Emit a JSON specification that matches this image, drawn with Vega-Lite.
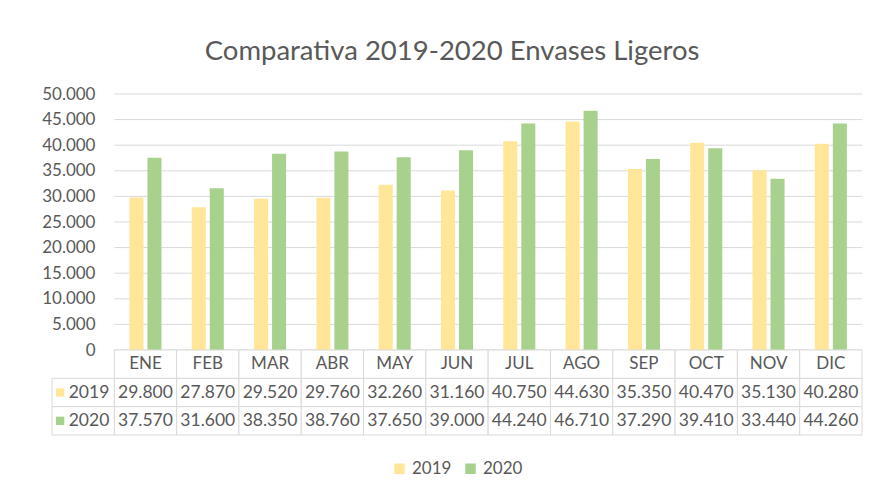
{
  "$schema": "https://vega.github.io/schema/vega-lite/v6.json",
  "padding": {"left": 41, "top": 37, "right": 10, "bottom": 5},
  "title": {"text": "Comparativa 2019-2020 Envases Ligeros", "font": "Lato", "fontSize": 27.5, "fontWeight": "normal", "color": "#595959", "anchor": "middle", "offset": 20},
  "datasets": {
    "valores": [
      {"mes": "ENE", "anio": "2019", "valor": 29800},
      {"mes": "FEB", "anio": "2019", "valor": 27870},
      {"mes": "MAR", "anio": "2019", "valor": 29520},
      {"mes": "ABR", "anio": "2019", "valor": 29760},
      {"mes": "MAY", "anio": "2019", "valor": 32260},
      {"mes": "JUN", "anio": "2019", "valor": 31160},
      {"mes": "JUL", "anio": "2019", "valor": 40750},
      {"mes": "AGO", "anio": "2019", "valor": 44630},
      {"mes": "SEP", "anio": "2019", "valor": 35350},
      {"mes": "OCT", "anio": "2019", "valor": 40470},
      {"mes": "NOV", "anio": "2019", "valor": 35130},
      {"mes": "DIC", "anio": "2019", "valor": 40280},
      {"mes": "ENE", "anio": "2020", "valor": 37570},
      {"mes": "FEB", "anio": "2020", "valor": 31600},
      {"mes": "MAR", "anio": "2020", "valor": 38350},
      {"mes": "ABR", "anio": "2020", "valor": 38760},
      {"mes": "MAY", "anio": "2020", "valor": 37650},
      {"mes": "JUN", "anio": "2020", "valor": 39000},
      {"mes": "JUL", "anio": "2020", "valor": 44240},
      {"mes": "AGO", "anio": "2020", "valor": 46710},
      {"mes": "SEP", "anio": "2020", "valor": 37290},
      {"mes": "OCT", "anio": "2020", "valor": 39410},
      {"mes": "NOV", "anio": "2020", "valor": 33440},
      {"mes": "DIC", "anio": "2020", "valor": 44260}
    ],
    "lineas": [
      {"v": 0}, {"v": 5000}, {"v": 10000}, {"v": 15000}, {"v": 20000}, {"v": 25000},
      {"v": 30000}, {"v": 35000}, {"v": 40000}, {"v": 45000}, {"v": 50000}
    ]
  },
  "spacing": 0,
  "bounds": "flush",
  "resolve": {"scale": {"color": "shared"}},
  "vconcat": [
    {
      "width": 810,
      "height": 256,
      "layer": [
        {
          "data": {"name": "lineas"},
          "mark": {"type": "rule", "color": "#D9D9D9", "strokeWidth": 1},
          "encoding": {
            "y": {"field": "v", "type": "quantitative", "scale": {"domain": [0, 50000]},
              "axis": {"title": null, "values": [0, 5000, 10000, 15000, 20000, 25000, 30000, 35000, 40000, 45000, 50000], "format": ",.0f", "grid": false, "domain": false, "ticks": false, "offset": -62, "labelPadding": 19, "labelFont": "Lato", "labelFontSize": 17, "labelColor": "#595959"}},
            "x": {"datum": "ENE", "type": "nominal", "bandPosition": 0, "axis": null,
              "scale": {"domain": ["_", "ENE", "FEB", "MAR", "ABR", "MAY", "JUN", "JUL", "AGO", "SEP", "OCT", "NOV", "DIC"], "paddingInner": 0, "paddingOuter": 0}},
            "x2": {"datum": "DIC", "bandPosition": 1}
          }
        },
        {
          "data": {"name": "valores"},
          "mark": {"type": "bar"},
          "encoding": {
            "x": {"field": "mes", "type": "nominal", "axis": null,
              "scale": {"domain": ["_", "ENE", "FEB", "MAR", "ABR", "MAY", "JUN", "JUL", "AGO", "SEP", "OCT", "NOV", "DIC"], "paddingInner": 0, "paddingOuter": 0}},
            "xOffset": {"field": "anio", "type": "nominal", "scale": {"paddingInner": 0.22, "paddingOuter": 0.84}},
            "y": {"field": "valor", "type": "quantitative",
              "axis": {"title": null, "values": [0, 5000, 10000, 15000, 20000, 25000, 30000, 35000, 40000, 45000, 50000], "format": ",.0f", "grid": false, "domain": false, "ticks": false, "offset": -62, "labelPadding": 19, "labelFont": "Lato", "labelFontSize": 17, "labelColor": "#595959"}},
            "color": {"field": "anio", "type": "nominal", "scale": {"domain": ["2019", "2020"], "range": ["#FFE699", "#A9D18E"]},
              "legend": {"title": null, "orient": "bottom", "direction": "horizontal", "symbolType": "square", "symbolSize": 110, "offset": 24, "labelFont": "Lato", "labelFontSize": 17, "labelColor": "#595959"}}
          }
        }
      ]
    },
    {
      "width": 810,
      "height": 85,
      "data": {"name": "valores"},
      "layer": [
        {
          "mark": {"type": "rect", "fill": "white", "stroke": "#D9D9D9", "strokeWidth": 1},
          "encoding": {
            "x": {"field": "mes", "type": "nominal", "axis": null,
              "scale": {"domain": ["_", "ENE", "FEB", "MAR", "ABR", "MAY", "JUN", "JUL", "AGO", "SEP", "OCT", "NOV", "DIC"], "paddingInner": 0, "paddingOuter": 0}},
            "y": {"field": "anio", "type": "nominal", "axis": null,
              "scale": {"domain": ["h", "2019", "2020"], "paddingInner": 0, "paddingOuter": 0}}
          }
        },
        {
          "transform": [{"filter": "datum.anio == '2019'"}],
          "mark": {"type": "rect", "fill": "white", "stroke": "#D9D9D9", "strokeWidth": 1},
          "encoding": {
            "x": {"field": "mes", "type": "nominal"},
            "y": {"datum": "h", "type": "nominal"}
          }
        },
        {
          "transform": [{"aggregate": [{"op": "count", "as": "n"}], "groupby": ["anio"]}],
          "mark": {"type": "rect", "fill": "white", "stroke": "#D9D9D9", "strokeWidth": 1},
          "encoding": {
            "x": {"datum": "_", "type": "nominal"},
            "y": {"field": "anio", "type": "nominal"}
          }
        },
        {
          "mark": {"type": "text", "font": "Lato", "fontSize": 17.5, "color": "#595959"},
          "encoding": {
            "x": {"field": "mes", "type": "nominal"},
            "y": {"field": "anio", "type": "nominal"},
            "text": {"field": "valor", "type": "quantitative", "format": ",.0f"}
          }
        },
        {
          "transform": [{"filter": "datum.anio == '2019'"}],
          "mark": {"type": "text", "font": "Lato", "fontSize": 17, "color": "#595959"},
          "encoding": {
            "x": {"field": "mes", "type": "nominal"},
            "y": {"datum": "h", "type": "nominal"},
            "text": {"field": "mes", "type": "nominal"}
          }
        },
        {
          "transform": [{"aggregate": [{"op": "count", "as": "n"}], "groupby": ["anio"]}],
          "mark": {"type": "text", "font": "Lato", "fontSize": 17.5, "color": "#595959", "align": "right", "dx": -5},
          "encoding": {
            "x": {"datum": "_", "type": "nominal", "bandPosition": 1},
            "y": {"field": "anio", "type": "nominal"},
            "text": {"field": "anio", "type": "nominal"}
          }
        },
        {
          "transform": [{"aggregate": [{"op": "count", "as": "n"}], "groupby": ["anio"]}],
          "mark": {"type": "point", "shape": "square", "filled": true, "opacity": 1, "size": 70},
          "encoding": {
            "x": {"datum": "_", "type": "nominal", "bandPosition": 0.13},
            "y": {"field": "anio", "type": "nominal"},
            "color": {"field": "anio", "type": "nominal", "scale": {"domain": ["2019", "2020"], "range": ["#FFE699", "#A9D18E"]},
              "legend": {"title": null, "orient": "bottom", "direction": "horizontal", "symbolType": "square", "symbolSize": 110, "offset": 24, "labelFont": "Lato", "labelFontSize": 17, "labelColor": "#595959"}}
          }
        }
      ]
    }
  ],
  "config": {
    "view": {"stroke": null},
    "font": "Lato",
    "legend": {"layout": {"bottom": {"anchor": "middle", "direction": "horizontal", "center": true}}},
    "locale": {"number": {"decimal": ",", "thousands": ".", "grouping": [3], "currency": ["", " €"]}}
  }
}
